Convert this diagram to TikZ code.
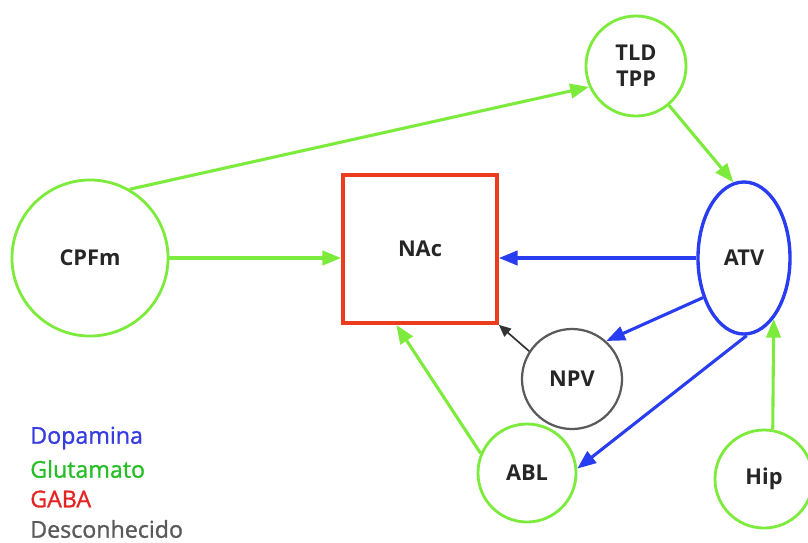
\documentclass[tikz,border=0pt]{standalone}
\usepackage{fontspec}
\setmainfont{Open Sans}
\newfontfamily\legendfont[FakeBold=1.2]{Open Sans}
\usetikzlibrary{arrows.meta,shapes.geometric,calc}

\definecolor{glu}{RGB}{125,235,60}
\definecolor{dop}{RGB}{40,60,240}
\definecolor{gab}{RGB}{235,60,30}
\definecolor{unk}{RGB}{90,90,90}
\definecolor{glutxt}{RGB}{40,190,40}
\definecolor{doptxt}{RGB}{55,60,225}
\definecolor{gabtxt}{RGB}{230,35,35}

\begin{document}
\begin{tikzpicture}[x=0.025cm,y=-0.025cm,
		region/.style={circle,draw=#1,line width=2pt,inner sep=0pt,
			font=\fontsize{15.5}{18.5}\selectfont\bfseries,text=black!85},
		glulink/.style={glu,line width=2.2pt,-{Triangle[length=0.47cm,width=0.36cm]}},
		doplink/.style={dop,line width=2.2pt,-{Triangle[length=0.47cm,width=0.36cm]}},
		unklink/.style={black!80,line width=1.2pt,-{Triangle[length=0.3cm,width=0.26cm]}},
		legend/.style={anchor=west,inner sep=0pt,font=\legendfont\fontsize{16.5}{19}\selectfont}]
		% Set the size of the picture
		\useasboundingbox (0,0) rectangle (808,542);
		
		% Draw the regions
		\node[region=glu,minimum size=3.9cm] (cpfm) at (90,258) {CPFm};
		\node[region=glu,minimum size=2.5cm,align=center] (tld) at (636,66) {TLD\\TPP};
		\node[region=gab,rectangle,line width=2.6pt,minimum width=3.85cm,minimum height=3.7cm] (nac) at (420,249) {NAc};
		\node[region=dop,ellipse,line width=2.4pt,minimum width=2.3cm,minimum height=3.8cm] (atv) at (744,258) {ATV};
		\node[region=unk,line width=1.6pt,minimum size=2.5cm] (npv) at (572,379) {NPV};
		\node[region=glu,minimum size=2.45cm] (abl) at (527,473) {ABL};
		\node[region=glu,minimum size=2.45cm] (hip) at (764,479) {Hip};
		
		% Draw the projections
		\draw[glulink] (cpfm.60) -- (tld.204);
		\draw[glulink] (cpfm.east) -- (cpfm.east -| nac.west);
		\draw[glulink] (tld.-50) -- (atv.98);
		\draw[doplink] (atv.west) -- (atv.west -| nac.east);
		\draw[doplink] (atv.224) -- (npv.48);
		\draw[doplink] (atv.272) -- (abl.5);
		\draw[glulink] (abl.157) -- ($(nac.south west)!0.35!(nac.south east)$);
		\draw[unklink] (npv.147) -- (nac.south east);
		\draw[glulink] (hip.80) -- (atv.-64);
		
		% Legend
		\node[legend,doptxt] (ldop) at (30,438) {Dopamina};
		\node[legend,glutxt] (lglu) at (30,469) {Glutamato};
		\node[legend,gabtxt] (lgab) at (30,499) {GABA};
		\node[legend,unk] (lunk) at (30,529) {Desconhecido};
	\end{tikzpicture}
\end{document}
